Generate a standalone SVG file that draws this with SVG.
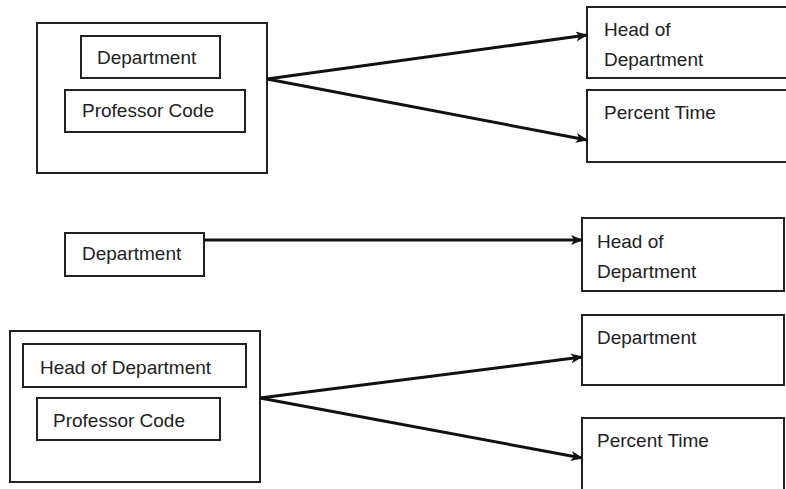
<svg xmlns="http://www.w3.org/2000/svg" width="786" height="489" viewBox="0 0 786 489">
<defs>
<marker id="ah" markerWidth="12" markerHeight="10" refX="11" refY="5" orient="auto" markerUnits="userSpaceOnUse">
<path d="M0,0 L12,5 L0,10 L3,5 Z" fill="#111"/>
</marker>
<style>
.box{fill:#fff;stroke:#222;stroke-width:2}
.t{font-family:"Liberation Sans",Arial,sans-serif;font-size:19px;fill:#222}
.c{stroke:#111;stroke-width:3;fill:none}
</style>
</defs>
<rect width="786" height="489" fill="#fff"/>
<g id="n1">
<rect class="box" x="37" y="23" width="230" height="150"/>
</g>
<g id="n1a">
<rect class="box" x="81" y="36" width="139" height="42"/>
<text class="t" x="97" y="64">Department</text>
</g>
<g id="n1b">
<rect class="box" x="65" y="90" width="180" height="42"/>
<text class="t" x="82" y="117">Professor Code</text>
</g>
<g id="n2">
<rect class="box" x="587" y="7" width="210" height="71"/>
<text class="t" x="604" y="36">Head of</text>
<text class="t" x="604" y="66">Department</text>
</g>
<g id="n3">
<rect class="box" x="587" y="90" width="210" height="72"/>
<text class="t" x="604" y="119">Percent Time</text>
</g>
<g id="n4">
<rect class="box" x="65" y="233" width="139" height="43"/>
<text class="t" x="82" y="260">Department</text>
</g>
<g id="n5">
<rect class="box" x="582" y="218" width="202" height="73"/>
<text class="t" x="597" y="248">Head of</text>
<text class="t" x="597" y="278">Department</text>
</g>
<g id="n6">
<rect class="box" x="10" y="331" width="250" height="151"/>
</g>
<g id="n6a">
<rect class="box" x="23" y="344" width="223" height="43"/>
<text class="t" x="40" y="374">Head of Department</text>
</g>
<g id="n6b">
<rect class="box" x="37" y="398" width="183" height="42"/>
<text class="t" x="53" y="427">Professor Code</text>
</g>
<g id="n7">
<rect class="box" x="582" y="315" width="202" height="70"/>
<text class="t" x="597" y="344">Department</text>
</g>
<g id="n8">
<rect class="box" x="582" y="418" width="202" height="80"/>
<text class="t" x="597" y="447">Percent Time</text>
</g>
<g id="connectors">
<line class="c" x1="267" y1="79" x2="587" y2="35" marker-end="url(#ah)"/>
<line class="c" x1="267" y1="79" x2="587" y2="140" marker-end="url(#ah)"/>
<line class="c" x1="204" y1="240" x2="582" y2="240" marker-end="url(#ah)"/>
<line class="c" x1="260" y1="398" x2="582" y2="357" marker-end="url(#ah)"/>
<line class="c" x1="260" y1="398" x2="582" y2="458" marker-end="url(#ah)"/>
</g>
</svg>
